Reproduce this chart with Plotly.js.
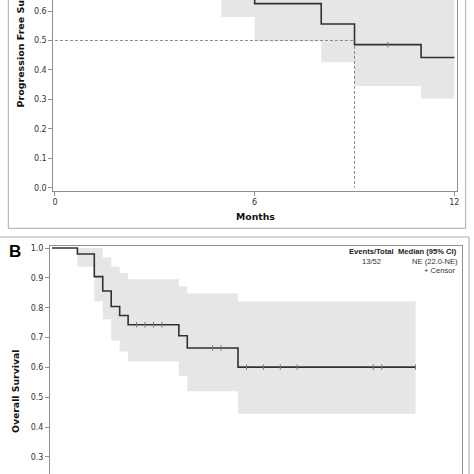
<!DOCTYPE html>
<html>
<head>
<meta charset="utf-8">
<script src="https://cdn.plot.ly/plotly-3.0.1.min.js"></script>
<style>
  html, body { margin: 0; padding: 0; background: #fff; overflow: hidden; }
  #chart { width: 474px; height: 474px; }
</style>
</head>
<body>
<div id="chart"></div>
<script>
// ---------- Panel A: progression-free survival ----------
const pfsTime = [0, 6, 8, 9, 11, 12];
const pfsSurv = [1.0, 0.625, 0.556, 0.486, 0.442, 0.442];
const pfsBandTime = [0, 5, 6, 8, 9, 11, 12];
const pfsLower = [0.72, 0.58, 0.497, 0.426, 0.345, 0.303, 0.303];
const pfsUpper = [1.0, 0.95, 0.86, 0.80, 0.74, 0.70, 0.70];
const pfsCensorTime = [10];
const pfsMedian = 9;
const pfsXTicks = [0, 6, 12];
const pfsYTicks = [0.0, 0.1, 0.2, 0.3, 0.4, 0.5, 0.6];

// ---------- Panel B: overall survival ----------
const osTime = [0, 3, 5, 6, 7, 8, 9, 15, 16, 22, 43];
const osSurv = [1.0, 0.980, 0.904, 0.856, 0.804, 0.774, 0.743, 0.706, 0.665, 0.601, 0.601];
const osLower = [1.0, 0.937, 0.822, 0.761, 0.690, 0.653, 0.620, 0.572, 0.520, 0.445, 0.445];
const osUpper = [1.0, 1.0, 1.0, 0.968, 0.937, 0.916, 0.895, 0.872, 0.848, 0.821, 0.821];
const osCensorTime = [10, 11, 12, 13, 19, 20, 23, 25, 27, 29, 38, 39, 43];
const osYTicks = [0.3, 0.4, 0.5, 0.6, 0.7, 0.8, 0.9, 1.0];
const osLegendHead = ['Events/Total', 'Median (95% CI)'];
const osLegendVals = ['13/52', 'NE (22.0-NE)'];
const censorLabel = '+ Censor';

function survAt(times, surv, t) {
  let v = surv[0];
  for (let i = 0; i < times.length; i++) if (times[i] <= t) v = surv[i];
  return v;
}

const W = 474, H = 474;
const px = x => x / W;
const py = y => 1 - y / H;

const lineCol = '#303030';
const bandCol = '#e6e6e6';
const axisCol = '#8f8f8f';
const censorCol = '#7a7a7a';
const tickFont = { family: 'DejaVu Sans', size: 8, color: '#333' };
const titleFont = { family: 'DejaVu Sans', size: 9.3, color: '#111', weight: 'bold' };
const legFontB = { family: 'Liberation Sans', size: 7.6, color: '#222', weight: 'bold' };
const legFont = { family: 'Liberation Sans', size: 7.6, color: '#333' };

const censorMarker = { symbol: 'line-ns-open', size: 4, color: censorCol, line: { color: censorCol, width: 1 } };

const traces = [
  // Panel A band
  { x: pfsBandTime, y: pfsLower, xaxis: 'x', yaxis: 'y', mode: 'lines', line: { shape: 'hv', width: 0 }, hoverinfo: 'skip', showlegend: false },
  { x: pfsBandTime, y: pfsUpper, xaxis: 'x', yaxis: 'y', mode: 'lines', line: { shape: 'hv', width: 0 }, fill: 'tonexty', fillcolor: bandCol, hoverinfo: 'skip', showlegend: false },
  // median reference lines
  { x: [0, pfsMedian, pfsMedian], y: [0.5, 0.5, 0], xaxis: 'x', yaxis: 'y', mode: 'lines', line: { color: '#888', width: 1, dash: '3px,2px' }, showlegend: false },
  // KM curve
  { x: pfsTime, y: pfsSurv, xaxis: 'x', yaxis: 'y', mode: 'lines', line: { shape: 'hv', color: lineCol, width: 1.6 }, showlegend: false },
  { x: pfsCensorTime, y: pfsCensorTime.map(t => survAt(pfsTime, pfsSurv, t)), xaxis: 'x', yaxis: 'y', mode: 'markers', marker: censorMarker, showlegend: false },

  // Panel B band
  { x: osTime, y: osLower, xaxis: 'x2', yaxis: 'y2', mode: 'lines', line: { shape: 'hv', width: 0 }, hoverinfo: 'skip', showlegend: false },
  { x: osTime, y: osUpper, xaxis: 'x2', yaxis: 'y2', mode: 'lines', line: { shape: 'hv', width: 0 }, fill: 'tonexty', fillcolor: bandCol, hoverinfo: 'skip', showlegend: false },
  { x: osTime, y: osSurv, xaxis: 'x2', yaxis: 'y2', mode: 'lines', line: { shape: 'hv', color: lineCol, width: 1.6 }, showlegend: false },
  { x: osCensorTime, y: osCensorTime.map(t => survAt(osTime, osSurv, t)), xaxis: 'x2', yaxis: 'y2', mode: 'markers', marker: censorMarker, showlegend: false }
];

const layout = {
  width: W, height: H,
  margin: { l: 0, r: 0, t: 0, b: 0 },
  paper_bgcolor: '#fff', plot_bgcolor: '#fff',
  showlegend: false,
  xaxis: {
    domain: [px(53.3), px(456.7)], range: [-0.05, 12.07], anchor: 'y',
    showline: true, linecolor: axisCol, linewidth: 1, mirror: false,
    ticks: 'outside', ticklen: 4, tickcolor: axisCol, tickvals: pfsXTicks,
    tickfont: tickFont, showgrid: false, zeroline: false, fixedrange: true
  },
  yaxis: {
    domain: [py(190.7), 1], range: [-0.0102, 0.6374], anchor: 'x',
    showline: true, linecolor: axisCol, linewidth: 1, mirror: true,
    ticks: 'outside', ticklen: 4, tickcolor: axisCol, tickvals: pfsYTicks, tickformat: '.1f',
    tickfont: tickFont, showgrid: false, zeroline: false, fixedrange: true
  },
  xaxis2: {
    domain: [px(50), px(461.7)], range: [-0.24, 48.46], anchor: 'y2', side: 'top',
    showline: true, linecolor: axisCol, linewidth: 1, mirror: false,
    ticks: '', showticklabels: false, showgrid: false, zeroline: false, fixedrange: true
  },
  yaxis2: {
    domain: [0, py(246)], range: [0.243, 1.0067], anchor: 'x2',
    showline: true, linecolor: axisCol, linewidth: 1, mirror: true,
    ticks: 'outside', ticklen: 4, tickcolor: axisCol, tickvals: osYTicks, tickformat: '.1f',
    tickfont: tickFont, showgrid: false, zeroline: false, fixedrange: true
  },
  shapes: [
    { type: 'rect', xref: 'paper', yref: 'paper', x0: px(8.3), x1: px(465.7), y0: py(228.3), y1: 1.05, line: { color: '#a8a8a8', width: 1 }, fillcolor: 'rgba(0,0,0,0)', layer: 'below' },
    { type: 'rect', xref: 'paper', yref: 'paper', x0: -0.02, x1: px(469), y0: -0.05, y1: py(237), line: { color: '#a8a8a8', width: 1 }, fillcolor: 'rgba(0,0,0,0)', layer: 'below' }
  ],
  annotations: [
    { text: 'Progression Free Survival', textangle: -90, xref: 'paper', yref: 'paper', x: px(20), y: py(38.5), xanchor: 'center', yanchor: 'middle', showarrow: false, font: { family: 'DejaVu Sans', size: 9.5, color: '#111', weight: 'bold' } },
    { text: 'Months', xref: 'paper', yref: 'paper', x: px(255), y: py(216), xanchor: 'center', yanchor: 'middle', showarrow: false, font: titleFont },
    { text: 'Overall Survival', textangle: -90, xref: 'paper', yref: 'paper', x: px(15), y: py(392), xanchor: 'center', yanchor: 'middle', showarrow: false, font: titleFont },
    { text: 'B', xref: 'paper', yref: 'paper', x: px(14.5), y: py(251), xanchor: 'center', yanchor: 'middle', showarrow: false, font: { family: 'Liberation Sans', size: 17, color: '#000', weight: 'bold' } },
    { text: osLegendHead[0], xref: 'paper', yref: 'paper', x: px(395.5), y: py(251), xanchor: 'right', yanchor: 'middle', showarrow: false, font: legFontB },
    { text: osLegendHead[1], xref: 'paper', yref: 'paper', x: px(458.5), y: py(251), xanchor: 'right', yanchor: 'middle', showarrow: false, font: legFontB },
    { text: osLegendVals[0], xref: 'paper', yref: 'paper', x: px(371.5), y: py(261), xanchor: 'center', yanchor: 'middle', showarrow: false, font: legFont },
    { text: osLegendVals[1], xref: 'paper', yref: 'paper', x: px(434.5), y: py(261), xanchor: 'center', yanchor: 'middle', showarrow: false, font: legFont },
    { text: censorLabel, xref: 'paper', yref: 'paper', x: px(457), y: py(270), xanchor: 'right', yanchor: 'middle', showarrow: false, font: legFont }
  ]
};

Plotly.newPlot('chart', traces, layout, { staticPlot: true, displayModeBar: false });
</script>
</body>
</html>
